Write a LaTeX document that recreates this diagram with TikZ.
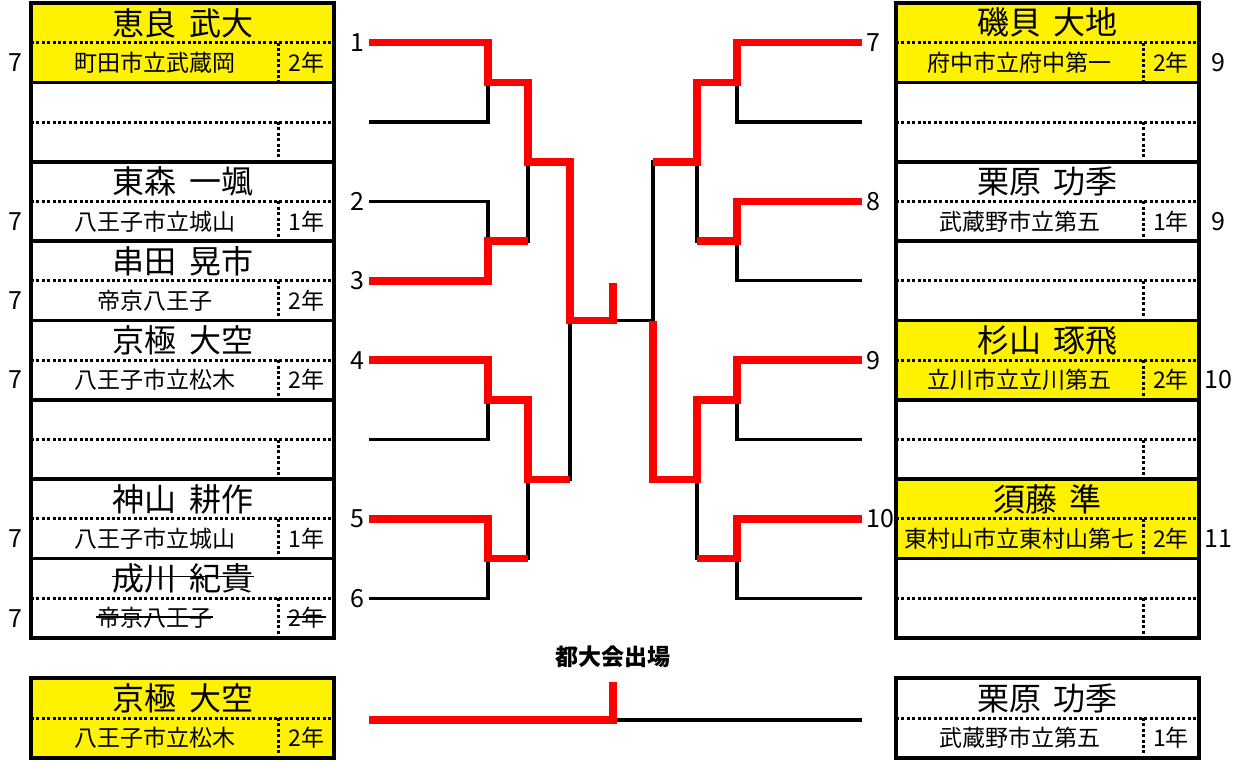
\documentclass[tikz,border=0pt]{standalone}
\usepackage{fontspec}
\setmainfont{Noto Sans CJK JP}
\usetikzlibrary{calc}

\def\rowh{39.6875}

\tikzset{
  box/.style={draw, line width=3.6pt},
  dots/.style={line width=3pt, dash pattern=on 3pt off 2.4pt},
  thin/.style={line width=3.2pt, line join=miter},
  win/.style={red, line width=7.5pt, line join=miter},
  nm/.style={font=\fontsize{32}{32}\selectfont, inner sep=1pt},
  sc/.style={font=\fontsize{23}{23}\selectfont, inner sep=1pt},
  num/.style={font=\fontsize{25}{25}\selectfont, inner sep=1pt},
  strike/.style={line width=1.5pt},
}

\begin{document}
\begin{tikzpicture}[x=1pt, y=-1pt]
\useasboundingbox (0,0) rectangle (1241,760);

% yellow rows
\fill[yellow] (31,3) rectangle (335,{3+2*\rowh});
\foreach \k in {0,4,6}
  \fill[yellow] (896,{3+2*\rowh*\k}) rectangle (1199,{3+2*\rowh*(\k+1)});
\fill[yellow] (31,678) rectangle (335,758);

% entry boxes
\foreach \x/\s in {31/278, 896/1143}
  \foreach \k in {0,...,7} {
    \draw[dots] (\x,{3+\rowh*(2*\k+1)}) -- ++(303,0);
    \draw[dots] (\s,{3+\rowh*(2*\k+1)}) -- (\s,{3+\rowh*(2*\k+2)});
    \draw[box] (\x,{3+2*\rowh*\k}) rectangle ++(303,{2*\rowh});
  }
\foreach \x/\s in {31/278, 896/1143} {
  \draw[dots] (\x,718) -- ++(303,0);
  \draw[dots] (\s,718) -- (\s,758);
  \draw[box] (\x,678) rectangle ++(303,80);
}

% left players
\foreach \k/\nm/\sc/\yr in {0/恵良\ \,武大/町田市立武蔵岡/2年, 2/東森\ \,一颯/八王子市立城山/1年,
    3/串田\ \,晃市/帝京八王子/2年, 4/京極\ \,大空/八王子市立松木/2年,
    6/神山\ \,耕作/八王子市立城山/1年, 7/成川\ \,紀貴/帝京八王子/2年} {
  \node[nm] (ln\k) at (183,{3+\rowh*(2*\k+0.5)}) {\nm};
  \node[sc] (ls\k) at (154.5,{3+\rowh*(2*\k+1.5)}) {\sc};
  \node[sc] (ly\k) at (306.5,{3+\rowh*(2*\k+1.5)}) {\yr};
  \node[num] (lw\k) at (15,{3+\rowh*(2*\k+1.5)}) {7};
}
\draw[strike] ([yshift=2pt]ln7.west) -- ([yshift=2pt]ln7.east);
\draw[strike] ([yshift=1pt]ls7.west) -- ([yshift=1pt]ls7.east);
\draw[strike] ([yshift=1pt]ly7.west) -- ([yshift=1pt]ly7.east);

% right players
\foreach \k/\nm/\sc/\yr/\w in {0/磯貝\ \,大地/府中市立府中第一/2年/9, 2/栗原\ \,功季/武蔵野市立第五/1年/9,
    4/杉山\ \,琢飛/立川市立立川第五/2年/10, 6/須藤\ \,準/東村山市立東村山第七/2年/11} {
  \node[nm] (rn\k) at (1047.5,{3+\rowh*(2*\k+0.5)}) {\nm};
  \node[sc] (rs\k) at (1019.5,{3+\rowh*(2*\k+1.5)}) {\sc};
  \node[sc] (ry\k) at (1171,{3+\rowh*(2*\k+1.5)}) {\yr};
  \node[num] (rw\k) at (1218,{3+\rowh*(2*\k+1.5)}) {\w};
}

% bracket points
\foreach \i in {1,...,8} {
  \coordinate (l\i) at (369,{3+\rowh*(2*\i-1)});
  \coordinate (r\i) at (862,{3+\rowh*(2*\i-1)});
}
\foreach \i in {1,...,4} {
  \coordinate (j1\i) at (488,{3+\rowh*(4*\i-2)});
  \coordinate (k1\i) at (737,{3+\rowh*(4*\i-2)});
}
\foreach \i in {1,2} {
  \coordinate (j2\i) at (528,{3+\rowh*(8*\i-4)});
  \coordinate (k2\i) at (697,{3+\rowh*(8*\i-4)});
}
\coordinate (j31) at (570,{3+8*\rowh});
\coordinate (k31) at (653,{3+8*\rowh});
\coordinate (fin) at (613,{3+8*\rowh});
\coordinate (finup) at (613,283);

% slot numbers
\foreach \i/\t in {1/1, 3/2, 4/3, 5/4, 7/5, 8/6}
  \node[num, anchor=east, xshift=-3pt] (lt\i) at (l\i) {\t};
\foreach \i/\t in {1/7, 3/8, 5/9, 7/10}
  \node[num, anchor=west, xshift=3pt] (rt\i) at (r\i) {\t};

% bracket lines
\foreach \i/\a/\b in {1/1/2, 2/3/4, 3/5/6, 4/7/8} {
  \draw[thin] (l\a) -| (j1\i) |- (l\b);
  \draw[thin] (r\a) -| (k1\i) |- (r\b);
}
\draw[thin] (j11) -| (j21) |- (j12);
\draw[thin] (j13) -| (j22) |- (j14);
\draw[thin] (k11) -| (k21) |- (k12);
\draw[thin] (k13) -| (k22) |- (k14);
\draw[thin] (j21) -| (j31) |- (j22);
\draw[thin] (k21) -| (k31) |- (k22);
\draw[thin] (j31) -- (k31);

% winners
\draw[win] (l1) -| (j11) -| (j21) -| (j31) -- (fin) -- (finup);
\draw[win] (l4) -| (j12) -- (j12 -| j21);
\draw[win] (l5) -| (j13) -| (j22) -- (j22 -| j31);
\draw[win] (l7) -| (j14) -- (j14 -| j22);
\draw[win] (r1) -| (k11) -| (k21) -- (k21 -| k31);
\draw[win] (r3) -| (k12) -- (k12 -| k21);
\draw[win] (r5) -| (k13) -| (k22) -| (k31);
\draw[win] (r7) -| (k14) -- (k14 -| k22);

% final
\node[font=\fontsize{23}{23}\selectfont\bfseries] (title) at (613,657) {都大会出場};
\coordinate (bl) at (369,720);
\coordinate (bfin) at (613,720);
\coordinate (bup) at (613,682);
\coordinate (br) at (862,720);
\draw[thin] (bfin) -- (br);
\draw[win] (bl) -- (bfin) -- (bup);

\node[nm] (bn1) at (183,698) {京極\ \,大空};
\node[sc] (bs1) at (154.5,738) {八王子市立松木};
\node[sc] (by1) at (306.5,738) {2年};
\node[nm] (bn2) at (1047.5,698) {栗原\ \,功季};
\node[sc] (bs2) at (1019.5,738) {武蔵野市立第五};
\node[sc] (by2) at (1171,738) {1年};
\end{tikzpicture}
\end{document}
